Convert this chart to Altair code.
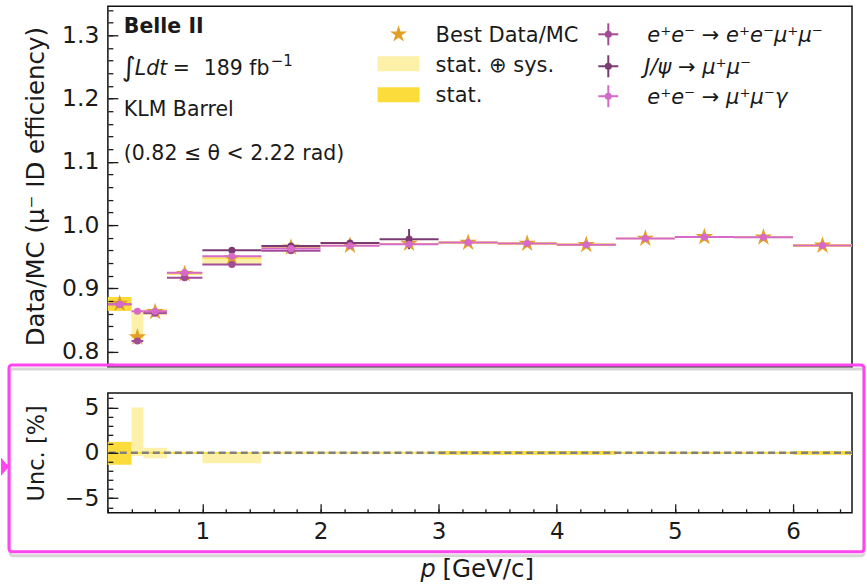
import altair as alt
import pandas as pd

# ---------------- data ----------------
p_lo = [0.2, 0.4, 0.5, 0.7, 1.0, 1.5, 2.0, 2.5, 3.0, 3.5, 4.0, 4.5, 5.0, 5.5, 6.0]
p_hi = [0.4, 0.5, 0.7, 1.0, 1.5, 2.0, 2.5, 3.0, 3.5, 4.0, 4.5, 5.0, 5.5, 6.0, 6.5]
best = [0.876, 0.823, 0.863, 0.923, 0.948, 0.965, 0.968, 0.971, 0.9725, 0.971,
        0.969, 0.979, 0.9815, 0.981, 0.968]
# uncertainties in percent
stat_dn = [1.3, 0.1, 0.1, 0.1, 0.1, 0.05, 0.05, 0.05, 0.2, 0.2, 0.2, 0.1, 0.1, 0.1, 0.2]
stat_up = [1.2, 0.1, 0.1, 0.1, 0.1, 0.05, 0.05, 0.05, 0.2, 0.2, 0.2, 0.1, 0.1, 0.1, 0.2]
tot_dn = [1.3, 0.35, 0.6, 0.15, 1.15, 0.15, 0.15, 0.15, 0.2, 0.2, 0.2, 0.15, 0.15, 0.15, 0.2]
tot_up = [1.2, 5.0, 0.55, 0.15, 0.1, 0.15, 0.15, 0.15, 0.2, 0.2, 0.2, 0.15, 0.15, 0.15, 0.2]

eemm_val = [0.875, 0.817, 0.861, 0.917, 0.938, 0.9595, None, None, None, None, None, None, None, None, None]
eemm_err = [0.003, 0.003, 0.002, 0.002, 0.002, 0.002, 0, 0, 0, 0, 0, 0, 0, 0, 0]
jpsi_val = [None, None, None, None, 0.9605, 0.967, 0.972, 0.978, None, None, None, None, None, None, None]
jpsi_err = [0, 0, 0, 0, 0.002, 0.002, 0.003, 0.016, 0, 0, 0, 0, 0, 0, 0]
mmg_val = [0.875, 0.864, 0.864, 0.925, 0.951, 0.963, 0.9675, 0.970, 0.9725, 0.971,
           0.969, 0.979, 0.9815, 0.981, 0.968]
mmg_err = [0.003, 0.003, 0.002, 0.002, 0.001, 0.001, 0.001, 0.001, 0.001, 0.001,
           0.001, 0.001, 0.001, 0.001, 0.001]

series_names = ["eemumu", "jpsi", "mumugamma"]
series_colors = ["#a24c98", "#7c3a71", "#d56ac9"]

x_major = [1, 2, 3, 4, 5, 6]
x_minor = [round(0.2 + 0.2 * i, 1) for i in range(32)]
y1_major = [0.8, 0.9, 1.0, 1.1, 1.2, 1.3]
y1_minor = [round(0.78 + 0.02 * i, 2) for i in range(29)]
y2_major = [-5, 0, 5]
y2_minor = list(range(-6, 7))

# ---------------- styling ----------------
FONT = "DejaVu Sans"
TXT = "#1a1a1a"
LIGHT = "#fdf0a8"
DARK = "#fcdc3a"
GOLD = "#e2a126"
MAGENTA = "#ff45f0"
W, H1, H2 = 745, 361, 120
XDOM = [0.2, 6.5]
Y1DOM = [0.776, 1.346]
Y2DOM = [-6.6, 6.6]
STAR = ("M0,-1L0.2245,-0.309L0.951,-0.309L0.363,0.118L0.588,0.809L0,0.382"
        "L-0.588,0.809L-0.363,0.118L-0.951,-0.309L-0.2245,-0.309Z")
TRI = "M-0.45,-1L0.45,0L-0.45,1Z"
FS = 20.5   # annotation font size
LFS = 21    # legend font size

# ---------------- tables ----------------
bins = pd.DataFrame({"lo": p_lo, "hi": p_hi, "best": best,
                     "sdn": stat_dn, "sup": stat_up, "tdn": tot_dn, "tup": tot_up})
bins["mid"] = (bins["lo"] + bins["hi"]) / 2
bins["t_lo"] = bins["best"] * (1 - bins["tdn"] / 100)
bins["t_hi"] = bins["best"] * (1 + bins["tup"] / 100)
bins["s_lo"] = bins["best"] * (1 - bins["sdn"] / 100)
bins["s_hi"] = bins["best"] * (1 + bins["sup"] / 100)
bins["u_lo"] = -bins["tdn"]
bins["u_hi"] = bins["tup"]
bins["us_lo"] = -bins["sdn"]
bins["us_hi"] = bins["sup"]

rows = []
for name, vals, errs in [("eemumu", eemm_val, eemm_err), ("jpsi", jpsi_val, jpsi_err),
                         ("mumugamma", mmg_val, mmg_err)]:
    for i, (lo, hi, v, e) in enumerate(zip(p_lo, p_hi, vals, errs)):
        if v is None:
            continue
        rows.append({"series": name, "order": series_names.index(name), "lo": lo, "hi": hi,
                     "mid": (lo + hi) / 2, "val": v, "ylo": v - e, "yhi": v + e})
ser = pd.DataFrame(rows)
one = pd.DataFrame({"k": [0]})
zero = pd.DataFrame({"z": [0]})

color = alt.Color("series:N", scale=alt.Scale(domain=series_names, range=series_colors), legend=None)


def X(field, axis=None):
    return alt.X(field, type="quantitative", scale=alt.Scale(domain=XDOM, nice=False, zero=False),
                 axis=axis, title=None)


def Y1(field, axis=None):
    return alt.Y(field, type="quantitative", scale=alt.Scale(domain=Y1DOM, nice=False, zero=False),
                 axis=axis, title=None)


def Y2(field, axis=None):
    return alt.Y(field, type="quantitative", scale=alt.Scale(domain=Y2DOM, nice=False, zero=False),
                 axis=axis, title=None)


def label(s, x, y, size=FS, style="normal", weight="normal", align="left"):
    return alt.Chart(one).mark_text(text=s, fontSize=size, fontStyle=style, fontWeight=weight,
                                    align=align, baseline="alphabetic", font=FONT, color=TXT
                                    ).encode(x=alt.value(x), y=alt.value(y))


def vrule(x, x2, y, y2, col, w=2):
    return alt.Chart(one).mark_rule(color=col, strokeWidth=w).encode(
        x=alt.value(x), x2=alt.value(x2), y=alt.value(y), y2=alt.value(y2))


# ---------------- axes ----------------
y1_main = alt.Axis(orient="left", values=y1_major, format=".1f", ticks=False, tickSize=0, domain=False,
                   labelPadding=9, labelFontSize=23.5, title="Data/MC (μ⁻ ID efficiency)",
                   titleFontSize=24.5, titleX=-59, titleY=180, titleBaseline="bottom", titleAngle=270)
y1_maj_t = alt.Axis(orient="right", offset=-W, values=y1_major, labels=False, tickSize=10,
                    domain=False, zindex=1)
y1_min_t = alt.Axis(orient="right", offset=-W, values=y1_minor, labels=False, tickSize=5,
                    domain=False, zindex=1)

y2_main = alt.Axis(orient="left", values=y2_major, format="d", ticks=False, tickSize=0, domain=False,
                   labelPadding=9, labelFontSize=23.5, title="Unc. [%]", titleFontSize=22.5,
                   titleX=-59, titleY=60, titleBaseline="bottom", titleAngle=270)
y2_maj_t = alt.Axis(orient="right", offset=-W, values=y2_major, labels=False, tickSize=10,
                    domain=False, zindex=1)
y2_min_t = alt.Axis(orient="right", offset=-W, values=y2_minor, labels=False, tickSize=5,
                    domain=False, zindex=1)
x2_main = alt.Axis(orient="bottom", values=x_major, format="d", ticks=False, tickSize=0, domain=False,
                   labelPadding=8, labelFontSize=23)
x2_maj_t = alt.Axis(orient="top", offset=-H2, values=x_major, labels=False, tickSize=9,
                    domain=False, zindex=1)
x2_min_t = alt.Axis(orient="top", offset=-H2, values=x_minor, labels=False, tickSize=4,
                    domain=False, zindex=1)

# ---------------- top panel ----------------
band_tot = alt.Chart(bins).mark_rect(color=LIGHT).encode(
    x=X("lo"), x2="hi", y=Y1("t_lo", y1_main), y2="t_hi")
band_stat = alt.Chart(bins).mark_rect(color=DARK).encode(
    x=X("lo"), x2="hi", y=Y1("s_lo", y1_maj_t), y2="s_hi")
stars = alt.Chart(bins).mark_point(shape=STAR, filled=True, size=340, color=GOLD, opacity=1).encode(
    x=X("mid"), y=Y1("best", y1_min_t))
hbars = alt.Chart(ser).mark_rule(strokeWidth=2).encode(
    x=X("lo"), x2="hi", y=Y1("val"), color=color, order="order:Q")
vbars = alt.Chart(ser).mark_rule(strokeWidth=2).encode(
    x=X("mid"), y=Y1("ylo"), y2="yhi", color=color, order="order:Q")
dots = alt.Chart(ser).mark_circle(size=50, opacity=1).encode(
    x=X("mid"), y=Y1("val"), color=color, order="order:Q")

texts = [
    label("Belle II", 16, 27, weight="bold"),
    label("∫", 14, 70, size=27),
    label("Ldt", 27, 69, style="italic"),
    label("=", 65, 69),
    label("189 fb", 96, 69),
    label("−1", 163, 60, size=15),
    label("KLM Barrel", 16, 110),
    label("(0.82  ≤ θ <  2.22 rad)", 16, 154),
]

# legend, column 1
leg = [
    alt.Chart(one).mark_point(shape=STAR, filled=True, size=320, color=GOLD, opacity=1).encode(
        x=alt.value(291), y=alt.value(28)),
    alt.Chart(one).mark_rect(color=LIGHT).encode(
        x=alt.value(270), x2=alt.value(312), y=alt.value(50), y2=alt.value(65)),
    alt.Chart(one).mark_rect(color=DARK).encode(
        x=alt.value(270), x2=alt.value(312), y=alt.value(81), y2=alt.value(96)),
    label("Best Data/MC", 328, 35.5, size=LFS),
    label("stat. ⊕ sys.", 328, 66, size=LFS),
    label("stat.", 328, 96, size=LFS),
]
# legend, column 2
for (cy, col, txt, tx) in [(28, series_colors[0], "e⁺e⁻ → e⁺e⁻μ⁺μ⁻", 540),
                           (60, series_colors[1], "J/ψ → μ⁺μ⁻", 537),
                           (90, series_colors[2], "e⁺e⁻ → μ⁺μ⁻γ", 540)]:
    leg.append(vrule(491, 511, cy, cy, col))
    leg.append(vrule(501, 501, cy - 11, cy + 11, col))
    leg.append(alt.Chart(one).mark_circle(size=50, opacity=1, color=col).encode(
        x=alt.value(501), y=alt.value(cy)))
    leg.append(label(txt, tx, cy + 7.5, size=LFS, style="italic"))

top = alt.layer(band_tot, band_stat, stars, hbars, vbars, dots, *texts, *leg).resolve_axis(
    x="independent", y="independent").properties(width=W, height=H1)

# ---------------- bottom panel ----------------
u_tot = alt.Chart(bins).mark_rect(color=LIGHT).encode(
    x=X("lo", x2_main), x2="hi", y=Y2("u_lo", y2_main), y2="u_hi")
u_stat = alt.Chart(bins).mark_rect(color=DARK).encode(
    x=X("lo", x2_maj_t), x2="hi", y=Y2("us_lo", y2_maj_t), y2="us_hi")
carrier = alt.Chart(bins).mark_point(opacity=0).encode(
    x=X("mid", x2_min_t), y=Y2("us_hi", y2_min_t))
zline = alt.Chart(zero).mark_rule(color="#808080", strokeWidth=2.5, strokeDash=[7, 4]).encode(
    y=Y2("z"))

xtitle = [label("p", 313, 184, size=24, style="italic"),
          label("[GeV/c]", 335, 184, size=24.5)]

shadow = alt.Chart(one).mark_rect(fillOpacity=0, stroke="#d6d6d6", strokeWidth=3, cornerRadius=3).encode(
    x=alt.value(-98), x2=alt.value(757), y=alt.value(-24), y2=alt.value(163))
box = alt.Chart(one).mark_rect(fillOpacity=0, stroke=MAGENTA, strokeWidth=3, cornerRadius=3).encode(
    x=alt.value(-99), x2=alt.value(757), y=alt.value(-28), y2=alt.value(159))
tri = alt.Chart(one).mark_point(shape=TRI, filled=True, size=324, color=MAGENTA, opacity=1).encode(
    x=alt.value(-102.95), y=alt.value(74))

bottom = alt.layer(u_tot, u_stat, carrier, zline, *xtitle, shadow, box, tri).resolve_axis(
    x="independent", y="independent").properties(width=W, height=H2)

chart = alt.vconcat(top, bottom, spacing=26, bounds="flush").properties(
    padding={"left": 0, "top": 5, "right": 0, "bottom": 0}
).configure_view(stroke="#111111", strokeWidth=1.5).configure_axis(
    grid=False, labelFont=FONT, titleFont=FONT, labelColor=TXT, titleColor=TXT, tickColor=TXT,
    titleFontWeight="normal", tickWidth=1.3
).configure_text(font=FONT)

chart.save("out.html", embed_options={"renderer": "svg", "actions": False})
